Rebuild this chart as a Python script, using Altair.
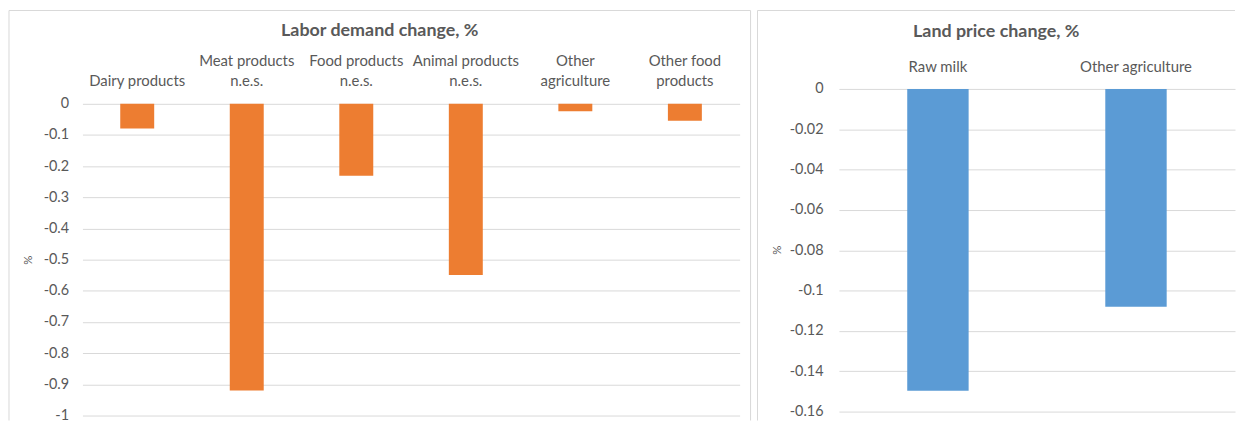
import altair as alt
import pandas as pd

# ---- data ----
labor_categories = ["Dairy products", "Meat products\nn.e.s.", "Food products\nn.e.s.",
                    "Animal products\nn.e.s.", "Other\nagriculture", "Other food\nproducts"]
labor_values = [-0.079, -0.92, -0.231, -0.549, -0.024, -0.054]
labor_ticks = [0, -0.1, -0.2, -0.3, -0.4, -0.5, -0.6, -0.7, -0.8, -0.9, -1]

land_categories = ["Raw milk", "Other agriculture"]
land_values = [-0.1497, -0.108]
land_ticks = [0, -0.02, -0.04, -0.06, -0.08, -0.1, -0.12, -0.14, -0.16]

FONT = "Lato"
GREY = "#595959"
GRID = "#d9d9d9"
LABEL_Y = "datum.value == 0 ? '0' : '-' + format(abs(datum.value), '~g')"
LABEL_X = ("length(split(datum.label, '\\n')) > 1 ? split(datum.label, '\\n') "
           ": ['', datum.label]")


def panel(cats, vals, ticks, domain, color, title, w, h, cfg):
    df = pd.DataFrame({"cat": cats, "val": vals})
    base = alt.Chart(df)
    bars = base.mark_bar(color=color).encode(
        x=alt.X("cat:N", sort=None,
                scale=alt.Scale(paddingInner=0.69, paddingOuter=0.345),
                axis=alt.Axis(orient="top", title=None, ticks=False, tickSize=0, domain=False,
                              labelAngle=0, labelFont=FONT, labelFontSize=15, labelColor=GREY,
                              labelPadding=cfg["xlp"], labelLineHeight=21, labelBaseline="bottom",
                              labelExpr=LABEL_X)),
        y=alt.Y("val:Q", scale=alt.Scale(domain=domain, nice=False, zero=False),
                axis=alt.Axis(values=ticks, title="%", labelExpr=LABEL_Y, ticks=False, tickSize=0,
                              domain=False, grid=True, gridColor=GRID, gridWidth=1,
                              labelFont=FONT, labelFontSize=14.5, labelColor=GREY,
                              labelPadding=cfg["lp"],
                              titleFont=FONT, titleFontSize=11.5, titleFontWeight="normal",
                              titleColor=GREY, titleAngle=-90, titleX=cfg["tx"], titleY=cfg["ty"],
                              titleAlign="center", titleBaseline="middle")),
    )
    fdf = pd.DataFrame({"f": [0]})
    fb = alt.Chart(fdf)
    top_rule = fb.mark_rule(color=GRID, strokeWidth=1).encode(
        x=alt.value(cfg["x1"]), x2=alt.value(cfg["x2"]), y=alt.value(cfg["y1"]))
    layers = [top_rule]
    for xv in cfg["vx"]:
        layers.append(fb.mark_rule(color=GRID, strokeWidth=1).encode(
            x=alt.value(xv), y=alt.value(cfg["y1"]), y2=alt.value(cfg["y2"])))
    return alt.layer(bars, *layers).properties(
        width=w, height=h,
        title=alt.TitleParams(title, font=FONT, fontSize=18, fontWeight="bold", color=GREY,
                              anchor="middle", frame="bounds", dy=cfg["tdy"]),
    )


left = panel(labor_categories, labor_values, labor_ticks, [-1, 0.0478], "#ED7D31",
             "Labor demand change, %", 662, 329,
             {"x1": -74, "x2": 673, "y1": -79, "y2": 334, "vx": [-74, 673], "lp": 14,
              "tdy": 34, "xlp": 21, "tx": -54, "ty": 172})
right = panel(land_categories, land_values, land_ticks, [-0.16, 0], "#5B9BD5",
              "Land price change, %", 399, 325,
              {"x1": -82, "x2": 399, "y1": -79, "y2": 334, "vx": [-82], "lp": 16,
               "tdy": 35, "xlp": 36, "tx": -62, "ty": 162})

chart = alt.hconcat(left, right, spacing=5).properties(
    padding={"left": 0, "top": 0, "right": 0, "bottom": 0},
    background="white",
).configure_view(stroke=None)

chart.save("out.html", embed_options={"renderer": "svg", "actions": False})
